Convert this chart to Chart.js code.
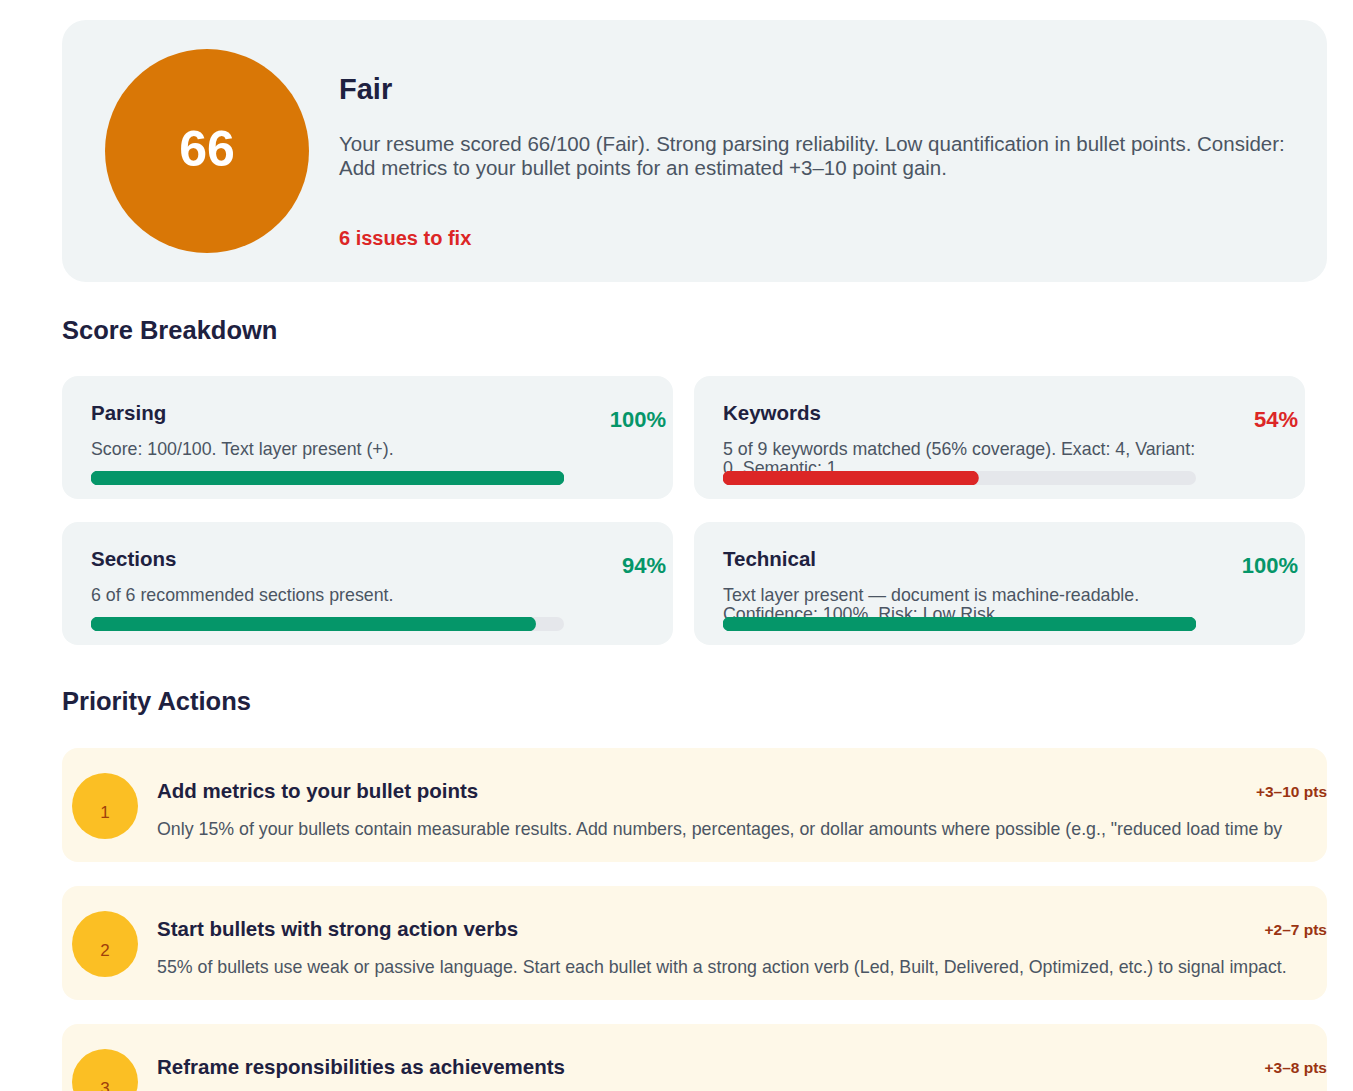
<!DOCTYPE html>
<html><head><meta charset="utf-8">
<script src="https://cdn.jsdelivr.net/npm/chart.js@4"></script>
<style>
body{margin:0;background:#fff;font-family:"Liberation Sans",Arial,sans-serif;color:#1e2140;}
.abs{position:absolute;}
.top{left:62px;top:20px;width:1265px;height:262px;background:#f0f4f5;border-radius:24px;}
.circle{left:105px;top:49px;width:204px;height:204px;border-radius:50%;background:#d97706;color:#fff;font-weight:bold;font-size:50px;text-align:center;line-height:200px;}
.h{font-weight:bold;}
.card{background:#f0f4f5;border-radius:16px;width:611px;height:123px;}
.ctitle{font-weight:bold;font-size:20.5px;}
.pct{font-weight:bold;font-size:22px;text-align:right;}
.desc{font-size:17.8px;color:#4b5563;line-height:19px;width:485px;}
.track{width:473px;height:14px;border-radius:7px;background:#e5e7eb;}
.act{left:62px;width:1265px;height:114px;background:#fef8e8;border-radius:16px;overflow:hidden;}
.num{width:66px;height:66px;border-radius:50%;background:#fbbf24;color:#a0400b;font-size:17px;text-align:center;line-height:80px;}
.atitle{font-weight:bold;font-size:20.5px;}
.pts{font-weight:bold;font-size:15.5px;color:#9a3412;text-align:right;}
.adesc{font-size:17.8px;line-height:22px;height:22px;color:#4b5563;overflow:hidden;width:1150px;}
</style></head><body>
<div class="abs top"></div>
<div class="abs circle" id="score"></div>
<div class="abs h" style="left:339px;top:73px;font-size:29px;">Fair</div>
<div class="abs" style="left:339px;top:132px;font-size:20.5px;color:#4b5563;line-height:24px;width:960px;">Your resume scored 66/100 (Fair). Strong parsing reliability. Low quantification in bullet points. Consider: Add metrics to your bullet points for an estimated +3–10 point gain.</div>
<div class="abs h" style="left:339px;top:227px;font-size:20px;color:#dc2626;">6 issues to fix</div>
<div class="abs h" style="left:62px;top:316px;font-size:25.5px;">Score Breakdown</div>
<div id="cards"></div>
<div class="abs h" style="left:62px;top:687px;font-size:25.5px;">Priority Actions</div>
<div id="actions"></div>
<script>
const scoreValue = 66;
const categories = ["Parsing", "Keywords", "Sections", "Technical"];
const scores = [100, 54, 94, 100];
const descs = [
  "Score: 100/100. Text layer present (+).",
  "5 of 9 keywords matched (56% coverage). Exact: 4, Variant: 0, Semantic: 1",
  "6 of 6 recommended sections present.",
  "Text layer present — document is machine-readable. Confidence: 100%. Risk: Low Risk"
];
const actionTitles = ["Add metrics to your bullet points", "Start bullets with strong action verbs", "Reframe responsibilities as achievements"];
const actionPts = ["+3–10 pts", "+2–7 pts", "+3–8 pts"];
const actionDescs = [
  "Only 15% of your bullets contain measurable results. Add numbers, percentages, or dollar amounts where possible (e.g., \"reduced load time by 40%\").",
  "55% of bullets use weak or passive language. Start each bullet with a strong action verb (Led, Built, Delivered, Optimized, etc.) to signal impact.",
  ""
];

document.getElementById("score").textContent = scoreValue;

const cardsEl = document.getElementById("cards");
categories.forEach(function (name, i) {
  var x = i % 2 ? 694 : 62;
  var y = i < 2 ? 376 : 522;
  var color = scores[i] >= 70 ? "#059669" : "#dc2626";
  cardsEl.insertAdjacentHTML("beforeend",
    '<div class="abs card" style="left:' + x + 'px;top:' + y + 'px"></div>' +
    '<div class="abs ctitle" style="left:' + (x + 29) + 'px;top:' + (y + 25) + 'px">' + name + '</div>' +
    '<div class="abs pct" style="left:' + (x + 460) + 'px;top:' + (y + 31) + 'px;width:144px;color:' + color + '">' + scores[i] + '%</div>' +
    '<div class="abs desc" style="left:' + (x + 29) + 'px;top:' + (y + 64) + 'px">' + descs[i] + '</div>' +
    '<div class="abs track" style="left:' + (x + 29) + 'px;top:' + (y + 95) + 'px"><canvas id="bar' + i + '"></canvas></div>');
  new Chart(document.getElementById("bar" + i), {
    type: "bar",
    data: { labels: [name], datasets: [{ data: [scores[i]], backgroundColor: color, borderRadius: 7, borderSkipped: false, barPercentage: 1, categoryPercentage: 1 }] },
    options: {
      indexAxis: "y", responsive: true, maintainAspectRatio: false, animation: false,
      layout: { padding: 0 },
      plugins: { legend: { display: false }, tooltip: { enabled: false } },
      scales: { x: { display: false, min: 0, max: 100 }, y: { display: false } }
    }
  });
});

const actEl = document.getElementById("actions");
actionTitles.forEach(function (t, i) {
  var y = 748 + i * 138;
  actEl.insertAdjacentHTML("beforeend",
    '<div class="abs act" style="top:' + y + 'px">' +
    '<div class="abs num" style="left:10px;top:25px">' + (i + 1) + '</div>' +
    '<div class="abs atitle" style="left:95px;top:31px">' + t + '</div>' +
    '<div class="abs pts" style="left:1065px;top:35px;width:200px">' + actionPts[i] + '</div>' +
    '<div class="abs adesc" style="left:95px;top:70px">' + actionDescs[i] + '</div></div>');
});
</script>
</body></html>
